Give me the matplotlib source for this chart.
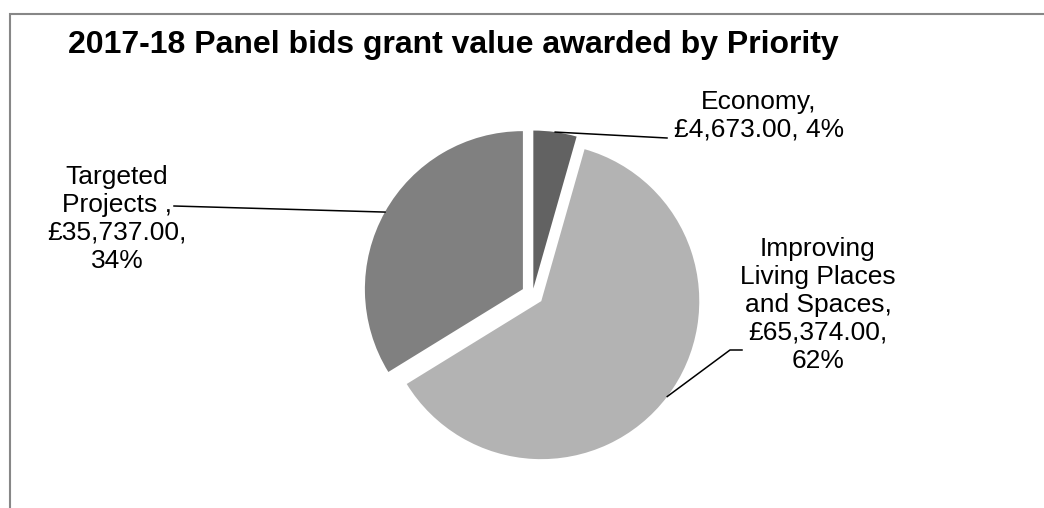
import numpy as np
import matplotlib.pyplot as plt

# data
priorities = ["Economy", "Improving Living Places and Spaces", "Targeted Projects "]
label_text = ["Economy,\n£4,673.00, 4%",
              "Improving\nLiving Places\nand Spaces,\n£65,374.00,\n62%",
              "Targeted\nProjects ,\n£35,737.00,\n34%"]
grant = [4673.00, 65374.00, 35737.00]
colours = ["#626262", "#b3b3b3", "#808080"]

W, H = 1044, 508
plt.rcParams['font.family'] = ['Liberation Sans', 'DejaVu Sans']

fig = plt.figure(figsize=(W / 100, H / 100), dpi=100)
ax = fig.add_axes([0, 0, 1, 1])

r = 158
centre = (532.5, H - 294.5)
# explode is an absolute offset here (same units as radius)
wedges, _ = ax.pie(grant, colors=colours, startangle=90, counterclock=False,
                   radius=r, center=centre, explode=[6, 11, 11],
                   wedgeprops=dict(linewidth=0), frame=True)
ax.set_xlim(0, W)
ax.set_ylim(0, H)
ax.set_aspect('equal')
ax.axis('off')

# chart frame (only left and top edges visible in the crop)
ax.plot([10, 10, W + 5], [-5, H - 14.3, H - 14.3], color="#878787", lw=1.5,
        solid_joinstyle='miter', clip_on=False)

ax.text(68, H - 53, "2017-18 Panel bids grant value awarded by Priority",
        fontsize=23, fontweight='bold', ha='left', va='baseline')

# label positions (centre of text block) and leader line end points
text_pos = [(759, H - 116), (818, H - 305), (117, H - 219)]
leader_end = [[(667, H - 138)],
              [(730, H - 350), (742, H - 350)],
              [(174, H - 206)]]

for w, txt, pos, ends in zip(wedges, label_text, text_pos, leader_end):
    mid = np.deg2rad((w.theta1 + w.theta2) / 2)
    ax_x = w.center[0] + w.r * np.cos(mid)
    ax_y = w.center[1] + w.r * np.sin(mid)
    xs = [ax_x] + [p[0] for p in ends]
    ys = [ax_y] + [p[1] for p in ends]
    ax.plot(xs, ys, color="black", lw=1.1)
    ax.text(pos[0], pos[1], txt, fontsize=19, ha='center', va='center',
            multialignment='center', linespacing=1.2)

fig.savefig("out.png", dpi=100, facecolor="white")
